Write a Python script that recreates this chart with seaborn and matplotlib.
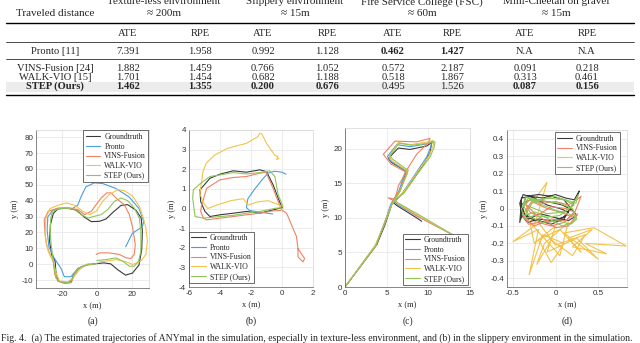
import numpy as np
import pandas as pd
import matplotlib
matplotlib.use("Agg")
import matplotlib.pyplot as plt
import seaborn as sns
from matplotlib.lines import Line2D
from matplotlib.patches import Rectangle

# ==========================================
# 1. table values
# ==========================================
methods = ["Pronto [11]", "VINS-Fusion [24]", "WALK-VIO [15]", "STEP (Ours)"]
groups = ["Texture-less environment", "Slippery environment",
          "Fire Service College (FSC)", "Mini-Cheetah on gravel"]
distances = ["\u2248 200m", "\u2248 15m", "\u2248 60m", "\u2248 15m"]
pronto_vals = ["7.391", "1.958", "0.992", "1.128", "0.462", "1.427", "N.A", "N.A"]
vins_vals = ["1.882", "1.459", "0.766", "1.052", "0.572", "2.187", "0.091", "0.218"]
walk_vals = ["1.701", "1.454", "0.682", "1.188", "0.518", "1.867", "0.313", "0.461"]
step_vals = ["1.462", "1.355", "0.200", "0.676", "0.495", "1.526", "0.087", "0.156"]
pronto_bold = [0, 0, 0, 0, 1, 1, 0, 0]
step_bold = [1, 1, 1, 1, 0, 0, 1, 1]

# ==========================================
# 2. trajectories
# ==========================================
# (a) texture-less
a_gt_x = [0, 4, 8, 12, 16.5, 20.5, 24.2, 25.8, 26.2, 25.5, 22.5, 17.7, 13.9, 9.1, 5.3, 1.5, -3.2, -7, -11.8, -16.6,
          -22.3, -25, -26.7, -27.2, -26, -24, -23.6, -22.3, -17.5, -14.7, -13.3, -9.9, -5, 0]
a_gt_y = [0.4, 0.8, 0.2, -3.5, -6.9, -5.6, -0.6, 9, 21, 29, 34, 37.5, 37, 32.5, 28.5, 27, 26.8, 29.5, 34, 35.2,
          35, 32, 25, 14.5, 6, 2, -4.4, -10.7, -11.7, -10.7, -6.5, -2.3, -0.2, 0.4]
a_pronto_x = [0.4, -4, -8.2, -11, -14.9, -18.7, -20.6, -24.4, -27.6, -28.6, -28.2, -25.3, -19.6, -13.9, -11, -9.1,
              -6.3, -1.5, 3.3, 10.9, 18.5, 24.2, 27, 26.1, 20.4, 16.6]
a_pronto_y = [0.5, 0, -1.2, -2.7, -7.9, -7.9, -2.7, 3.6, 11, 21.5, 29.8, 34, 35.1, 35.1, 37.2, 42.4,
              48.7, 51.2, 50.8, 47.7, 42.4, 35.1, 26.7, 23.5, 19.4, 11]
a_vins_x = [0, -3.2, -7, -10.9, -13.3, -14.7, -18.5, -22.3, -24.2, -25.1, -27, -29, -29.9, -30.3, -28, -22.3,
            -15.6, -10.9, -7, -3.2, -0.4, 2.5, 5.7, 8.2, 12, 15.8, 18.7, 20.6, 22.1, 21.5, 19.6, 16.8, 13, 7.2,
            1.5, -0.4]
a_vins_y = [0.4, 0.2, -0.8, -3.4, -7.5, -11.7, -12.2, -10.7, -6.5, 1.9, 6.1, 12.4, 20.8, 28.1, 33.3, 35.4,
            35.4, 34.4, 31.2, 33.3, 37.5, 41.7, 44.9, 44.9, 40.7, 37.5, 31.2, 22.9, 12.4, 6.1, 3.6, 4, 6.1, 7.1,
            7.1, 6.1]
a_walk_x = [-3, -6, -9.9, -13.7, -16.6, -21.3, -23.2, -25.1, -28, -29.9, -29.3, -27, -22.3, -17.5, -12.8, -8,
            -4.2, -0.4, 3.4, 7.2, 12, 15.8, 20.6, 24.4, 26.7, 28.2, 29.1, 28.2, 25.3, 20.6, 16.8, 11, 5.3, 1.5]
a_walk_y = [0.4, 0, -3.4, -8.6, -11.1, -10.7, -6.5, 1.9, 8.2, 18.7, 29.1, 35, 37.1, 38.6, 37.1, 33.3,
            31.2, 33.3, 39.6, 43.8, 47, 46.3, 42.8, 36.5, 29.1, 22.9, 14.5, 6.1, 1.9, -0.2, 1.5, 2.9, 1.9, 1.5]
a_step_x = [0, 5.3, 11, 14.9, 18.7, 21.5, 24, 25.3, 25.3, 24.4, 21.5, 17.7, 13.9, 10.1, 6.3, 2.5, -1.3, -5.1,
            -9, -12.8, -17.5, -22.3, -25.5, -26.5, -26.8, -26.3, -25.5, -24.8, -23.6, -21.3, -16.6, -14.1,
            -12.8, -9.9, -6.1, -2.3]
a_step_y = [2.3, 2.9, 4, 1.9, -1.3, -1.3, 1.9, 8.2, 20.8, 29.1, 35.4, 40, 41.7, 39.6, 34.4, 31.2, 30.2, 29.1,
            31.2, 34.4, 35.4, 35, 33.3, 29.1, 20.8, 12.4, 6.1, -0.2, -8.6, -11.1, -11.7, -9.6,
            -5.5, -2.3, -0.6, -0.2]

# (b) slippery
b_gt_x = [0, -0.57, -1.43, -2.29, -3.15, -4, -4.65, -4.97, -5.25, -5.29, -4.65, -4, -3.15, -2.29, -1.43, -1,
          -0.57, -0.25, 0]
b_gt_y = [0.05, -0.07, -0.24, -0.15, -0.24, -0.32, -0.41, -0.15, 0.36, 0.95, 1.54, 1.75, 1.92, 1.85, 1.97, 1.88,
          1.2, 0.53, 0.05]
b_pronto_x = [-0.6, -1.3, -2.1, -2.3, -2.2, -1.8, -1.3, -0.9, -0.5, 0, 0.25]
b_pronto_y = [-0.28, -0.2, -0.1, 0.05, 0.5, 0.95, 1.45, 1.8, 1.9, 1.85, 1.75]
b_vins_x = [-0.1, -0.57, -1.43, -2.29, -3.15, -4, -4.86, -5.07, -5.25, -5.18, -4.86, -4, -3.15, -2.29, -1.43,
            -1.04, -0.57, -0.25, -0.03, 0.29, 0.39, 0.61, 0.93, 1.03, 1.46, 1.35, 1.03, 1.03]
b_vins_y = [-0.1, -0.12, -0.24, -0.32, -0.41, -0.49, -0.58, -0.49, -0.15, 0.19, 1.03, 1.46, 1.58, 1.63, 1.8,
            1.85, 1.03, 0.36, -0.07, -0.24, -0.41, -0.83, -1.42, -2.04, -2.55, -2.72, -2.46, -2.04]
b_walk_x = [0.05, -0.3, -0.9, -1.55, -2.2, -2.3, -2.5, -3.3, -4.1, -4.8, -5.1, -5.3, -5.2, -5.1, -4.9, -4.35,
            -3.5, -2.3, -1.55, -1.44, -1.3, -1.0, -0.47, -0.26, -0.35, -0.2]
b_walk_y = [0.1, 0.22, 0.4, 0.34, 0.17, 0.3, 0.5, 0.4, 0.2, 0.0, 0.34, 0.77, 1.3, 1.87, 2.3, 2.72,
            3.07, 3.32, 3.66, 3.83, 3.8, 3.32, 2.72, 2.64, 2.5, 2.55]
b_step_x = [0.07, -0.36, -1.43, -2.29, -3.15, -4, -5.07, -5.61, -5.76, -5.72, -5.3, -4.65, -4, -3.15, -2.29,
            -1.43, -0.79, -0.46, -0.25, 0.07]
b_step_y = [0.02, 0.02, -0.15, -0.24, -0.35, -0.41, -0.49, -0.41, 0.53, 0.95, 1.25, 1.63, 1.71, 1.83, 1.76,
            1.83, 1.92, 1.63, 0.7, 0.1]

# (c) FSC
c_gt_x = [0, 3.8, 4.8, 5.6, 6.6, 7.4, 7.0, 5.6, 5.2, 6.4, 7.8, 9.8, 10.4, 10.2, 9.4, 8.0, 6.8, 5.8, 6.2, 8.6, 9.2]
c_gt_y = [0, 6.1, 9, 11.9, 13.9, 16.8, 17, 18, 18.6, 20.1, 19.9, 20.4, 20.9, 19.4, 17.7, 15.3, 13.4, 12.2, 11.8,
          10, 9.5]
c_pronto_x = [0, 3.7, 4.7, 5.5, 6.5, 7.3, 6.9, 5.5, 5.1, 6.2, 7.8, 9.8, 10.5, 10.3, 9.8, 8.3, 6.9, 5.9, 6.2,
              8.6, 13]
c_pronto_y = [0, 6.1, 9.1, 12, 14, 16.9, 17.1, 18.2, 18.9, 20.6, 20.3, 20.7, 21.1, 20.3, 18.8, 16.1, 13.6,
              12.4, 12, 10.3, 7.5]
c_vins_x = [0, 3.7, 4.8, 5.6, 6.6, 7.5, 5.5, 4.6, 6, 8.6, 10.2, 10, 8.6, 7.6, 6.4, 6, 5.2, 6.2, 8.6, 13]
c_vins_y = [0, 6, 9.5, 12, 14, 16.5, 17.8, 19.2, 21.1, 21, 21.5, 20.9, 19.2, 17.3, 14.6, 12.7, 12.9, 12.2,
            10.3, 7.5]
c_walk_x = [0, 3.6, 4.7, 5.6, 6.6, 7.5, 7.1, 5.6, 5.3, 6.4, 7.9, 9.9, 10.6, 10.6, 10.1, 8.5, 7.0, 6.0, 6.3,
            8.7, 13]
c_walk_y = [0, 6, 9, 11.9, 13.9, 16.8, 17.1, 18.3, 18.9, 20.9, 20.6, 21.0, 21.2, 20.5, 19.0, 16.3, 13.7,
            12.6, 12.1, 10.4, 7.5]
c_step_x = [0, 3.7, 4.7, 5.6, 6.6, 7.6, 7.2, 5.7, 5.4, 6.5, 8.0, 10.0, 10.8, 10.7, 10.2, 8.6, 7.1, 6.0, 6.3,
            8.8, 13]
c_step_y = [0, 6, 9, 11.9, 13.9, 16.9, 17.2, 18.5, 19.0, 20.8, 20.5, 20.8, 21.0, 20.2, 18.8, 16.2, 13.6,
            12.6, 12.2, 10.5, 7.5]

# (d) Mini-Cheetah on gravel
d_gt_x = [-0.40, -0.41, -0.40, -0.42, -0.35, -0.2, -0.05, 0.1, 0.18, 0.1, -0.05, -0.2, -0.33, -0.41, -0.40,
          -0.3, -0.15, 0.0, 0.12, 0.22, 0.28, 0.2, 0.12, 0.02, -0.12, -0.28, -0.4, -0.42, -0.38, -0.25, -0.1,
          0.05, 0.15, 0.1, -0.05, -0.2, -0.35, -0.41, -0.3, -0.1, 0.08, 0.2, 0.25, 0.15, -0.02, -0.18, -0.32,
          -0.4]
d_gt_y = [0.0, -0.06, 0.04, -0.08, 0.07, 0.08, 0.07, 0.05, 0.0, -0.05, -0.07, -0.06, -0.08, -0.03, 0.06,
          0.07, 0.06, 0.08, 0.06, 0.05, 0.1, 0.02, -0.04, -0.07, -0.08, -0.06, -0.02, 0.03, 0.08, 0.06, 0.02,
          0.0, -0.02, -0.06, -0.09, -0.07, -0.04, 0.02, 0.05, 0.04, 0.02, -0.01, -0.04, -0.07, -0.05, -0.03,
          -0.06, -0.01]
d_vins_x = [-0.38, -0.3, -0.15, 0.0, 0.15, 0.25, 0.3, 0.22, 0.1, -0.05, -0.2, -0.32, -0.38, -0.28, -0.1, 0.05,
            0.2, 0.26, 0.15, 0.0, -0.15, -0.3, -0.36, -0.22, -0.05, 0.12, 0.22, 0.12, -0.05, -0.25, -0.37]
d_vins_y = [0.02, 0.05, 0.03, 0.04, 0.02, 0.05, 0.07, -0.03, -0.08, -0.1, -0.08, -0.09, -0.03, 0.04, 0.0,
            -0.02, -0.05, -0.03, -0.1, -0.11, -0.06, -0.02, 0.03, -0.04, 0.01, 0.0, -0.02, -0.07, -0.06, -0.1,
            -0.05]
d_walk_x = [-0.35, -0.1, -0.25, -0.5, -0.2, -0.31, -0.15, 0.1, -0.05, -0.2, 0.05, 0.3, 0.15, 0.43, 0.2, 0.6,
            0.35, 0.83, 0.45, 0.1, 0.5, 0.25, -0.1, 0.0, -0.25, -0.3, 0.05, 0.15, -0.13, -0.22, -0.05, 0.2,
            0.35, 0.0, -0.2, -0.4]
d_walk_y = [-0.02, 0.15, -0.1, -0.19, -0.12, -0.38, -0.15, -0.2, -0.31, -0.18, -0.12, -0.25, -0.17, -0.12,
            -0.22, -0.26, -0.2, -0.215, -0.11, -0.14, -0.29, -0.17, -0.25, -0.1, -0.2, -0.08, -0.27, -0.08,
            -0.2, -0.32, -0.18, -0.27, -0.15, -0.21, -0.08, -0.05]
d_step_x = [-0.39, -0.32, -0.18, -0.02, 0.12, 0.24, 0.27, 0.18, 0.05, -0.1, -0.25, -0.37, -0.4, -0.3, -0.12,
            0.05, 0.2, 0.25, 0.18, 0.02, -0.15, -0.3, -0.38, -0.35, -0.2, 0.0, 0.15, 0.24, 0.2, 0.08, -0.08,
            -0.24, -0.36, -0.28, -0.1, 0.1, 0.22, 0.1, -0.1, -0.3]
d_step_y = [0.01, 0.06, 0.05, 0.07, 0.05, 0.03, 0.08, 0.01, -0.04, -0.05, -0.04, -0.06, 0.0, 0.05, 0.04, 0.03,
            0.0, -0.06, -0.09, -0.07, -0.08, -0.05, 0.02, 0.07, 0.03, -0.01, -0.03, -0.05, -0.08, -0.1, -0.06,
            -0.02, -0.04, 0.03, 0.06, 0.05, 0.02, -0.02, -0.03, 0.01]

caption = ("Fig. 4.  (a) The estimated trajectories of ANYmal in the simulation, especially in texture-less "
           "environment, and (b) in the slippery environment in the simulation.")

COLORS = {"Groundtruth": "#3a3a3a", "Pronto": "#4a9de0", "VINS-Fusion": "#ef8262",
          "WALK-VIO": "#f4c24a", "STEP (Ours)": "#8fc65a"}

sns.set_theme(style="white")
plt.rcParams["font.family"] = ["Liberation Serif", "DejaVu Serif"]
plt.rcParams["axes.unicode_minus"] = False

W, H = 640, 343
fig = plt.figure(figsize=(W / 100, H / 100), dpi=100)


def fx(x):
    return x / W


def fy(y):
    return 1 - y / H


# ==========================================
# 3. table
# ==========================================
TS = 7.6
label_cx = 55
col_cx = [128, 200, 263, 327, 393, 452, 525, 587]
group_cx = [164, 295, 422, 556]

fig.add_artist(Rectangle((fx(6), fy(92)), fx(628), 10 / H, transform=fig.transFigure,
                         facecolor="#ececec", edgecolor="none", zorder=0))
for yy, lw in [(23, 1.0), (42, 0.5), (59, 0.5), (94.5, 1.0)]:
    fig.add_artist(Line2D([fx(6), fx(634)], [fy(yy), fy(yy)], transform=fig.transFigure,
                          color="black", lw=lw))

fig.text(fx(label_cx), fy(14), "Traveled distance", ha="center", va="center", fontsize=TS + 0.4)
for g, d, cx in zip(groups, distances, group_cx):
    fig.text(fx(cx), fy(2), g, ha="center", va="center", fontsize=TS + 0.4)
    fig.text(fx(cx), fy(14), d, ha="center", va="center", fontsize=TS + 0.4)
for i, cx in enumerate(col_cx):
    fig.text(fx(cx), fy(33), "ATE" if i % 2 == 0 else "RPE", ha="center", va="center", fontsize=TS)

rows = [(pronto_vals, pronto_bold, 51), (vins_vals, [0] * 8, 68.5),
        (walk_vals, [0] * 8, 77.5), (step_vals, step_bold, 86.5)]
for (vals, bold, yy), name in zip(rows, methods):
    fig.text(fx(label_cx), fy(yy), name, ha="center", va="center", fontsize=TS,
             fontweight="bold" if name.startswith("STEP") else "normal")
    for v, b, cx in zip(vals, bold, col_cx):
        fig.text(fx(cx), fy(yy), v, ha="center", va="center", fontsize=TS,
                 fontweight="bold" if b else "normal")

# ==========================================
# 4. trajectory panels
# ==========================================
panels = [
    dict(box=(36, 130, 149, 288), xlim=(-35, 30), ylim=(-15, 84.5),
         xt=[-20, 0, 20], yt=list(range(-10, 90, 10)), tag="(a)",
         series=[("Groundtruth", a_gt_x, a_gt_y), ("Pronto", a_pronto_x, a_pronto_y),
                 ("VINS-Fusion", a_vins_x, a_vins_y), ("WALK-VIO", a_walk_x, a_walk_y),
                 ("STEP (Ours)", a_step_x, a_step_y)],
         leg=dict(loc="upper right", bbox_to_anchor=(0.995, 0.997))),
    dict(box=(189, 130, 313, 287), xlim=(-6, 2), ylim=(-4, 4),
         xt=[-6, -4, -2, 0, 2], yt=list(range(-4, 5)), tag="(b)",
         series=[("Groundtruth", b_gt_x, b_gt_y), ("Pronto", b_pronto_x, b_pronto_y),
                 ("VINS-Fusion", b_vins_x, b_vins_y), ("WALK-VIO", b_walk_x, b_walk_y),
                 ("STEP (Ours)", b_step_x, b_step_y)],
         leg=dict(loc="lower left", bbox_to_anchor=(0.0, 0.025))),
    dict(box=(345, 128, 470, 287), xlim=(0, 15), ylim=(0, 23),
         xt=[0, 5, 10, 15], yt=[0, 5, 10, 15, 20], tag="(c)",
         series=[("Groundtruth", c_gt_x, c_gt_y), ("Pronto", c_pronto_x, c_pronto_y),
                 ("VINS-Fusion", c_vins_x, c_vins_y), ("WALK-VIO", c_walk_x, c_walk_y),
                 ("STEP (Ours)", c_step_x, c_step_y)],
         leg=dict(loc="lower right", bbox_to_anchor=(0.985, 0.012))),
    dict(box=(507, 130, 627, 287), xlim=(-0.57, 0.84), ylim=(-0.45, 0.45),
         xt=[-0.5, 0, 0.5], yt=[-0.4, -0.3, -0.2, -0.1, 0, 0.1, 0.2, 0.3, 0.4], tag="(d)",
         series=[("Groundtruth", d_gt_x, d_gt_y), ("VINS-Fusion", d_vins_x, d_vins_y),
                 ("WALK-VIO", d_walk_x, d_walk_y), ("STEP (Ours)", d_step_x, d_step_y)],
         leg=dict(loc="upper right", bbox_to_anchor=(0.94, 0.985))),
]

for p in panels:
    x0, y0, x1, y1 = p["box"]
    ax = fig.add_axes([fx(x0), fy(y1), (x1 - x0) / W, (y1 - y0) / H])
    for name, xs, ys in p["series"]:
        df = pd.DataFrame({"x": xs, "y": ys})
        z = 1 if (name == "WALK-VIO" and p["tag"] == "(d)") else 2
        sns.lineplot(data=df, x="x", y="y", sort=False, estimator=None, color=COLORS[name],
                     lw=0.8, ax=ax, label=name, zorder=z)
    ax.set_xlim(*p["xlim"])
    ax.set_ylim(*p["ylim"])
    ax.set_xticks(p["xt"])
    ax.set_yticks(p["yt"])
    ax.set_xticklabels([f"{v:g}" for v in p["xt"]], family=["Liberation Sans"])
    ax.set_yticklabels([f"{v:g}" for v in p["yt"]], family=["Liberation Sans"])
    ax.tick_params(labelsize=5.8, length=2, width=0.4, direction="in", colors="#333333", pad=2)
    ax.grid(True, color="#e4e4e4", lw=0.5)
    for s in ["left", "bottom"]:
        ax.spines[s].set_color("#555555")
        ax.spines[s].set_linewidth(0.5)
    for s in ["top", "right"]:
        ax.spines[s].set_color("#d4d4d4")
        ax.spines[s].set_linewidth(0.5)
    ax.set_xlabel("x (m)", fontsize=6, labelpad=3)
    ax.set_ylabel("y (m)", fontsize=6, labelpad=2)
    leg = ax.legend(fontsize=5.6, handlelength=1.9, handletextpad=0.5, labelspacing=0.22,
                    borderpad=0.3, borderaxespad=0, fancybox=False, framealpha=1,
                    edgecolor="#333333", **p["leg"])
    leg.get_frame().set_linewidth(0.5)
    fig.text(fx((x0 + x1) / 2), fy(321), p["tag"], ha="center", va="center", fontsize=7)

fig.text(fx(1), fy(338), caption, ha="left", va="center", fontsize=7)

fig.savefig("out.png", dpi=100)
